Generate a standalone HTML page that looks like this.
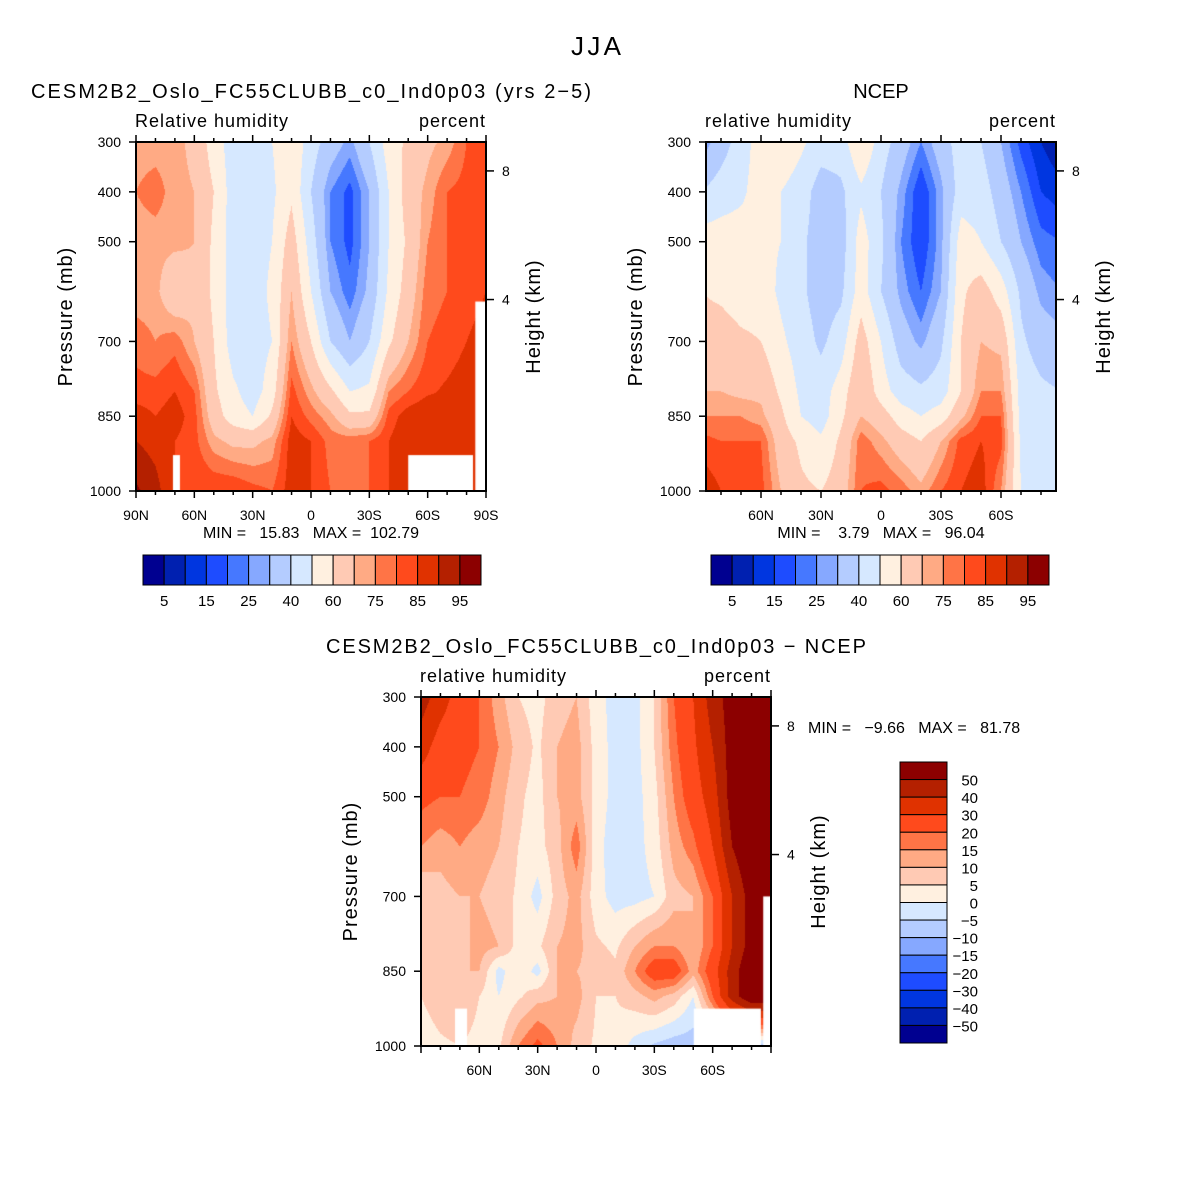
<!DOCTYPE html>
<html><head><meta charset="utf-8">
<style>
html,body{margin:0;padding:0;background:#fff;}
#wrap{position:relative;width:1192px;height:1190px;overflow:hidden;font-family:"Liberation Sans",sans-serif;}
canvas{position:absolute;}
svg{position:absolute;left:0;top:0;}
text{font-family:"Liberation Sans",sans-serif;fill:#000;white-space:pre;}
</style></head>
<body>
<div id="wrap">
<canvas id="c1" width="350" height="349" style="left:136px;top:142px"></canvas>
<canvas id="c2" width="350" height="349" style="left:706px;top:142px"></canvas>
<canvas id="c3" width="350" height="349" style="left:421px;top:697px"></canvas>
<svg id="svg" width="1192" height="1190"></svg>
</div>
<script>
// ---- data ----
const latitudes = [90,80,70,60,50,40,30,20,10,0,-10,-20,-30,-40,-50,-60,-70,-80,-90];
const pressureLevels = [300,400,500,600,700,800,850,900,1000];
const modelRH = [
[72,72,72,68,55,45,45,50,58,45,35,28,40,55,62,68,72,80,85],
[75,78,72,70,60,45,42,48,58,40,25,18,30,50,65,72,80,82,85],
[72,72,72,70,58,45,45,50,65,45,25,18,30,50,62,75,80,82,85],
[72,72,62,68,58,45,45,52,70,50,30,22,32,52,65,78,80,82,85],
[78,75,78,70,60,45,45,50,75,60,40,30,40,58,70,80,82,85,88],
[82,82,85,80,62,52,45,55,82,72,62,50,52,75,80,84,86,88,90],
[88,85,88,82,65,55,50,62,85,78,72,62,62,82,88,90,86,88,90],
[90,88,85,82,72,68,68,72,88,85,78,78,80,85,90,90,90,90,90],
[96,92,85,85,85,85,82,80,88,85,80,78,80,85,85,85,85,85,85]];
const ncepRH = [
[25,35,45,55,58,52,45,45,60,45,35,25,35,45,40,30,18,10,5],
[40,45,48,55,50,45,35,38,48,40,28,15,28,45,45,35,25,15,12],
[55,55,55,52,50,42,35,35,55,42,25,15,28,55,50,40,30,22,20],
[60,58,55,55,48,42,35,38,55,40,28,20,30,58,65,55,38,28,25],
[65,65,62,60,52,45,38,45,65,50,35,28,38,60,70,68,42,35,32],
[70,70,68,68,58,48,45,55,70,55,45,42,45,60,75,75,46,42,40],
[75,75,75,72,62,50,45,58,70,65,55,50,55,68,80,80,46,42,42],
[82,80,80,80,65,58,52,62,78,72,65,60,70,82,85,82,48,44,44],
[90,85,82,82,70,62,60,65,80,82,78,72,80,85,88,75,50,45,45]];
const diffRH = [
[45,35,25,20,12,5,3,8,10,2,-2,-2,5,20,30,45,55,60,60],
[35,25,22,20,15,8,4,10,12,3,-2,-2,5,18,28,40,55,60,60],
[22,20,20,18,12,6,3,10,12,3,-2,-2,3,15,25,35,55,60,60],
[15,12,15,12,10,5,3,8,18,2,-3,-2,2,12,18,30,50,60,60],
[5,8,10,10,8,4,-2,7,12,2,-2,-2,0,8,10,20,40,55,60],
[10,10,8,12,10,3,4,10,12,6,4,10,15,15,10,20,40,55,60],
[8,10,10,10,-2,4,-2,10,10,8,6,15,25,25,12,25,45,60,60],
[5,8,10,5,0,4,8,10,12,5,5,8,12,8,0,20,45,60,60],
[2,4,5,3,4,15,22,15,8,4,3,-2,-6,-8,-8,-8,-8,-8,-8]];
// missing-data masks: [latNorth, latSouth, pTop, pBottom]
const modelMask = [[71,67.4,928,1000],[-50,-83.3,928,1000],[-84.5,-90,620,1000]];
const diffMask = [[72.5,66.3,925,1000],[-50.3,-84.8,925,1000],[-86,-90,700,1000]];
const rhLevels = [5,10,15,20,25,30,40,50,60,70,75,80,85,90,95];
const rhLabels = ["5","15","25","40","60","75","85","95"];
const diffLevels = [-50,-40,-30,-20,-15,-10,-5,0,5,10,15,20,30,40,50];
const palette = ["#000090","#0020b0","#0036e0","#1e4cff","#4678ff","#86a8ff","#b4ccff","#d6e8ff","#fff0e0","#ffcab4","#ffaa84","#ff7446","#ff4a1c","#e03200","#b42000","#8c0000"];

function colorFor(v, levels){let k=0;while(k<levels.length&&v>=levels[k])k++;return palette[k];}
function interp(grid, lat, p){
  let fi=(90-lat)/10; fi=Math.max(0,Math.min(18,fi));
  let i0=Math.min(17,Math.floor(fi)), ti=fi-i0;
  let j0=0; while(j0<pressureLevels.length-2 && p>pressureLevels[j0+1]) j0++;
  let tj=(p-pressureLevels[j0])/(pressureLevels[j0+1]-pressureLevels[j0]); tj=Math.max(0,Math.min(1,tj));
  const a=grid[j0][i0],b=grid[j0][i0+1],c=grid[j0+1][i0],d=grid[j0+1][i0+1];
  return (a*(1-ti)+b*ti)*(1-tj)+(c*(1-ti)+d*ti)*tj;
}
function drawField(id, grid, levels, latN, latS, masks){
  const cv=document.getElementById(id), ctx=cv.getContext('2d');
  const W=cv.width,H=cv.height,s=1;
  const xScale=x=>latN-(latN-latS)*x/W;
  const yScale=y=>300+700*y/H;
  for(let y=0;y<H;y+=s)for(let x=0;x<W;x+=s){
    const v=interp(grid,xScale(x+s/2),yScale(y+s/2));
    ctx.fillStyle=colorFor(v,levels);ctx.fillRect(x,y,s,s);
  }
  ctx.fillStyle="#fff";
  masks.forEach(m=>{
    const x0=(latN-m[0])/(latN-latS)*W, x1=(latN-m[1])/(latN-latS)*W;
    const y0=(m[2]-300)/700*H, y1=(m[3]-300)/700*H;
    ctx.fillRect(x0,y0,x1-x0,y1-y0);
  });
}
drawField('c1',modelRH,rhLevels,90,-90,modelMask);
drawField('c2',ncepRH,rhLevels,87.5,-87.5,[]);
drawField('c3',diffRH,diffLevels,90,-90,diffMask);

// ---- overlay ----
const svg=document.getElementById('svg');
const NS="http://www.w3.org/2000/svg";
function el(tag,attrs,parent){const e=document.createElementNS(NS,tag);for(const k in attrs)e.setAttribute(k,attrs[k]);(parent||svg).appendChild(e);return e;}
function txt(x,y,s,size,anchor,name,extra){const t=el('text',Object.assign({x:x,y:y,'font-size':size,'text-anchor':anchor||'start'},extra||{}));t.textContent=s;


return t;}

txt(596,55,"JJA",26,"middle","figure-title",{textLength:50});
function panel(px,py,latN,latS,title,sub,name,minmax,tickLats,labelLats,titleLen){
  const W=350,H=349;
  const g=el('g',{});
  
  
  const X=lat=>px+(latN-lat)/(latN-latS)*W;
  const Y=p=>py+(p-300)/700*H;
  el('rect',{x:px,y:py,width:W,height:H,fill:'none',stroke:'#000','stroke-width':2},g);
  tickLats.forEach(l=>{if(l>latN+0.01||l<latS-0.01)return;const big=l%30===0;const x=X(l);
    el('line',{x1:x,x2:x,y1:py+H,y2:py+H+(big?7:4),stroke:'#000','stroke-width':1.5},g);
    el('line',{x1:x,x2:x,y1:py,y2:py-(big?7:4),stroke:'#000','stroke-width':1.5},g);});
  labelLats.forEach(l=>{const s=l===0?"0":(Math.abs(l)+(l>0?"N":"S"));txt(X(l),py+H+29,s,14,"middle",name+"-lat-label");});
  [300,400,500,700,850,1000].forEach(p=>{el('line',{x1:px-7,x2:px,y1:Y(p),y2:Y(p),stroke:'#000','stroke-width':1.5},g);
    txt(px-15,Y(p)+5,String(p),14,"end",name+"-pressure-label");});
  [[8,358],[4,616]].forEach(h=>{el('line',{x1:px+W,x2:px+W+8,y1:Y(h[1]),y2:Y(h[1]),stroke:'#000','stroke-width':1.5},g);
    txt(px+W+16,Y(h[1])+5,String(h[0]),14,"start",name+"-height-label");});
  txt(px-64,py+H/2,"Pressure (mb)",20,"middle",name+"-y-axis-title",{transform:`rotate(-90 ${px-64} ${py+H/2})`,'letter-spacing':1});
  txt(px+W+54,py+H/2,"Height (km)",20,"middle",name+"-right-axis-title",{transform:`rotate(-90 ${px+W+54} ${py+H/2})`,'letter-spacing':1});
  txt(px+W/2,py-44,title,20,"middle",name+"-title",titleLen?{textLength:titleLen}:{});
  txt(px-1,py-15,sub,18,"start",name+"-variable-label",{'letter-spacing':1});
  txt(px+W,py-15,"percent",18,"end",name+"-units-label",{'letter-spacing':1});
  if(minmax)txt(px+W/2,py+H+47,minmax,16,"middle",name+"-min-max");
}
const tl=[];for(let l=90;l>=-90;l-=10)tl.push(l);
panel(136,142,90,-90,"CESM2B2_Oslo_FC55CLUBB_c0_Ind0p03 (yrs 2−5)","Relative humidity","model-panel","MIN =   15.83   MAX =  102.79",tl,[90,60,30,0,-30,-60,-90],560);
panel(706,142,87.5,-87.5,"NCEP","relative humidity","ncep-panel","MIN =    3.79   MAX =   96.04",tl,[60,30,0,-30,-60],0);
panel(421,697,90,-90,"CESM2B2_Oslo_FC55CLUBB_c0_Ind0p03 − NCEP","relative humidity","diff-panel",null,tl,[60,30,0,-30,-60],540);
txt(808,733,"MIN =   −9.66   MAX =   81.78",16,"start","diff-min-max");

function hbar(x0,y0,name){
  const w=338/16;
  palette.forEach((c,i)=>{const r=el('rect',{x:x0+i*w,y:y0,width:w,height:30,fill:c,stroke:'#000','stroke-width':1});
    
    });
  rhLabels.forEach((s,k)=>txt(x0+(2*k+1)*w,y0+51,s,15,"middle",name+"-label"));
}
hbar(143,555,"model-colorbar");
hbar(711,555,"ncep-colorbar");
(function(){
  const x0=900,y0=762,h=281/16;
  for(let i=0;i<16;i++){const r=el('rect',{x:x0,y:y0+i*h,width:47,height:h,fill:palette[15-i],stroke:'#000','stroke-width':1});
    
    }
  for(let k=0;k<15;k++){const v=diffLevels[14-k];txt(978,y0+(k+1)*h+6,v<0?"−"+(-v):String(v),15,"end","diff-colorbar-label");}
})();
</script>
</body></html>
